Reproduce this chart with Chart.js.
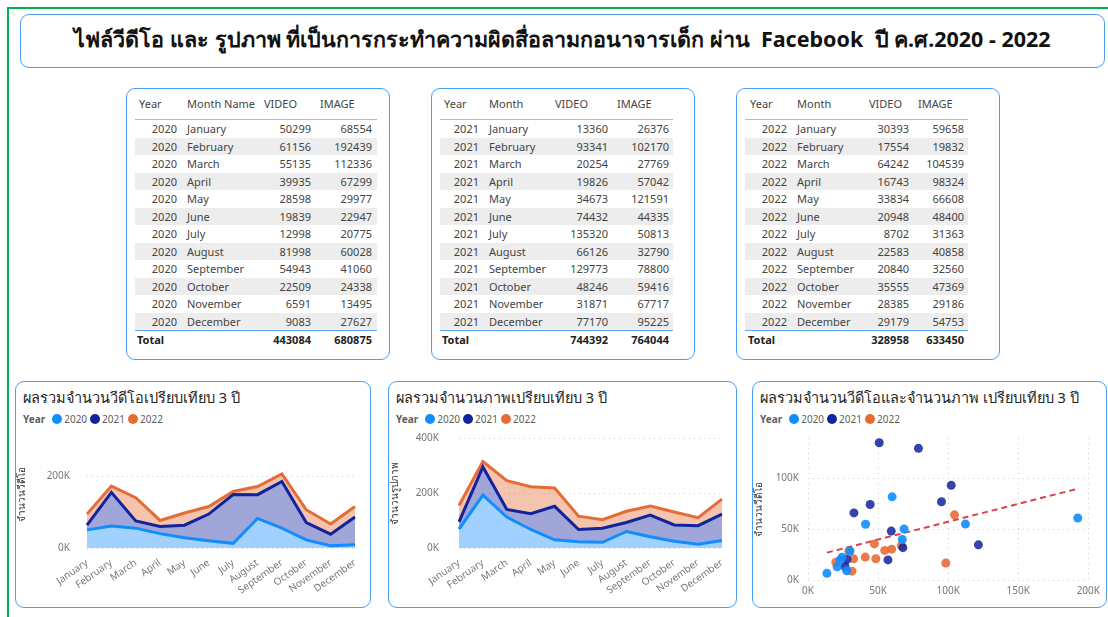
<!DOCTYPE html>
<html><head><meta charset="utf-8">
<script src="https://cdn.jsdelivr.net/npm/chart.js@4.4.0/dist/chart.umd.min.js"></script>
<style>
body{margin:0;width:1108px;height:617px;background:#fff;position:relative;overflow:hidden;font-family:'Noto Sans','Open Sans',sans-serif;}
.abs{position:absolute;}
.frame{left:7px;top:7px;width:1110px;height:620px;border:2px solid #00B050;box-sizing:border-box;}
.box{border:1px solid #4A9FF5;border-radius:9px;box-sizing:border-box;background:#fff;}
.title{font-weight:bold;font-size:21.5px;color:#111;text-align:center;line-height:48px;}
.cell{position:absolute;font-size:11px;color:#444;white-space:nowrap;line-height:14px;}
.r{text-align:right;}
.ptitle{font-size:14.5px;color:#252423;white-space:nowrap;}
.legend{font-size:10px;color:#605E5C;white-space:nowrap;display:flex;align-items:center;}
.legend b{margin-right:4px;color:#605E5C;}
.dot{display:inline-block;width:10px;height:10px;border-radius:50%;margin:0 2px 0 3px;}
</style></head>
<body>
<div class="abs frame"></div>
<div class="abs box title" style="left:20px;top:14px;width:1085px;height:54px;">ไฟล์วีดีโอ และ รูปภาพ ที่เป็นการกระทำความผิดสื่อลามกอนาจารเด็ก ผ่าน&nbsp; Facebook&nbsp; ปี ค.ศ.2020 - 2022</div>

<div class="abs box" style="left:126px;top:88px;width:264px;height:272px;"></div>
<div class="abs box" style="left:431px;top:88px;width:264px;height:272px;"></div>
<div class="abs box" style="left:736px;top:88px;width:264px;height:272px;"></div>
<div id="tables"></div>

<div class="abs box" style="left:15px;top:381px;width:356px;height:227px;"></div>
<div class="abs box" style="left:388px;top:381px;width:349px;height:227px;"></div>
<div class="abs box" style="left:752px;top:381px;width:355px;height:227px;"></div>

<div class="abs ptitle" style="left:23px;top:386px;">ผลรวมจำนวนวีดีโอเปรียบเทียบ 3 ปี</div>
<div class="abs ptitle" style="left:396px;top:386px;">ผลรวมจำนวนภาพเปรียบเทียบ 3 ปี</div>
<div class="abs ptitle" style="left:760px;top:386px;">ผลรวมจำนวนวีดีโอและจำนวนภาพ เปรียบเทียบ 3 ปี</div>

<div class="abs legend" style="left:23px;top:412px;" id="lg1"></div>
<div class="abs legend" style="left:396px;top:412px;" id="lg2"></div>
<div class="abs legend" style="left:760px;top:412px;" id="lg3"></div>

<canvas id="c1" class="abs" style="left:16px;top:417px;" width="352" height="189"></canvas>
<canvas id="c2" class="abs" style="left:389px;top:412px;" width="346" height="194"></canvas>
<canvas id="c3" class="abs" style="left:753px;top:423px;" width="352" height="183"></canvas>

<script>
const months = ['January','February','March','April','May','June','July','August','September','October','November','December'];
const years = ['2020','2021','2022'];
const video2020 = [50299,61156,55135,39935,28598,19839,12998,81998,54943,22509,6591,9083];
const image2020 = [68554,192439,112336,67299,29977,22947,20775,60028,41060,24338,13495,27627];
const video2021 = [13360,93341,20254,19826,34673,74432,135320,66126,129773,48246,31871,77170];
const image2021 = [26376,102170,27769,57042,121591,44335,50813,32790,78800,59416,67717,95225];
const video2022 = [30393,17554,64242,16743,33834,20948,8702,22583,20840,35555,28385,29179];
const image2022 = [59658,19832,104539,98324,66608,48400,31363,40858,32560,47369,29186,54753];
const totalsVideo = [443084,744392,328958];
const totalsImage = [680875,764044,633450];
const trendPoints = [{x:13495,y:27000},{x:192439,y:90000}];
const yTickLabels1 = [0,200000];
const yTickLabels2 = [0,200000,400000];
const scatterXTicks = [0,50000,100000,150000,200000];
const scatterYTicks = [0,50000,100000];

const COL = ['#118DFF','#12239E','#E66C37'];
const DOT = ['rgba(17,141,255,0.9)','rgba(18,35,158,0.85)','rgba(230,108,55,0.9)'];
const FILL = ['rgba(17,141,255,0.40)','rgba(18,35,158,0.40)','rgba(230,108,55,0.40)'];

// ----- tables -----
const tableLayouts = [
  {left:135,right:377,month:'Month Name',cols:{yearL:139,yearR:177,month:187,vidH:264,vidR:311,imgH:320,imgR:372}},
  {left:440,right:673,month:'Month',cols:{yearL:444,yearR:479,month:489,vidH:555,vidR:608,imgH:617,imgR:669}},
  {left:745,right:968,month:'Month',cols:{yearL:750,yearR:787,month:797,vidH:869,vidR:909,imgH:918,imgR:964}}
];
const vids=[video2020,video2021,video2022], imgs=[image2020,image2021,image2022];
let html='';
function cellL(x,y,t,extra){return `<div class="cell" style="left:${x}px;top:${y}px;${extra||''}">${t}</div>`;}
function cellR(x,y,t,extra){return `<div class="cell r" style="left:${x-80}px;width:80px;top:${y}px;${extra||''}">${t}</div>`;}
tableLayouts.forEach((L,ti)=>{
  const c=L.cols, w=L.right-L.left;
  html+=cellL(c.yearL,97,'Year');
  html+=cellL(c.month,97,L.month);
  html+=cellL(c.vidH,97,'VIDEO');
  html+=cellL(c.imgH,97,'IMAGE');
  html+=`<div class="abs" style="left:${L.left}px;top:119px;width:${w}px;height:1px;background:#8EC5F5"></div>`;
  months.forEach((m,i)=>{
    const top=120+i*17.5;
    if(i%2===1) html+=`<div class="abs" style="left:${L.left}px;top:${top}px;width:${w}px;height:17.5px;background:#EDEDED"></div>`;
    const ty=top+2;
    html+=cellR(c.yearR,ty,years[ti]);
    html+=cellL(c.month,ty,m);
    html+=cellR(c.vidR,ty,vids[ti][i]);
    html+=cellR(c.imgR,ty,imgs[ti][i]);
  });
  html+=`<div class="abs" style="left:${L.left}px;top:330px;width:${w}px;height:1px;background:#5AAAF0"></div>`;
  html+=cellL(c.yearL-2,333,'Total','font-weight:bold;color:#222');
  html+=cellR(c.vidR,333,totalsVideo[ti],'font-weight:bold;color:#222');
  html+=cellR(c.imgR,333,totalsImage[ti],'font-weight:bold;color:#222');
});
document.getElementById('tables').innerHTML=html;

// legends
['lg1','lg2','lg3'].forEach(id=>{
  let h='<b>Year</b>';
  years.forEach((y,i)=>{h+=`<span class="dot" style="background:${COL[i]}"></span><span>${y}</span>`;});
  document.getElementById(id).innerHTML=h;
});

Chart.defaults.font.family="'Noto Sans','Open Sans',sans-serif";
Chart.defaults.animation=false;
const kfmt = v => (v/1000)+'K';

function areaChart(id, d, max, tickVals, padY, yScaleW, padRight, padTop, ytitle){
  return new Chart(document.getElementById(id),{
    type:'line',
    data:{labels:months,datasets:years.map((y,i)=>({
      label:y,data:d[i],borderColor:COL[i],backgroundColor:FILL[i],
      fill:i===0?'origin':'-1',borderWidth:3,pointRadius:0,tension:0
    }))},
    options:{responsive:false,animation:false,
      layout:{padding:{top:padTop,right:padRight,left:0,bottom:0}},
      plugins:{legend:{display:false},tooltip:{enabled:false}},
      scales:{
        x:{grid:{display:false},border:{display:false},
           ticks:{autoSkip:false,minRotation:35,maxRotation:35,color:'#777',font:{size:10},padding:1},
           afterFit(s){s.height=58;}},
        y:{stacked:true,min:0,max:max,
           grid:{color:'#D0D0D0',lineWidth:1,drawTicks:false},
           border:{display:false,dash:[1,4]},
           ticks:{stepSize:200000,color:'#777',font:{size:10},padding:padY,callback:kfmt},
           afterBuildTicks(s){s.ticks=tickVals.map(v=>({value:v}));},
           title:{display:true,text:ytitle,color:'#333',font:{size:10},padding:{top:0,bottom:0}},
           afterFit(s){s.width=yScaleW;}}
      }
    }
  });
}
areaChart('c1',[video2020,video2021,video2022],300000,yTickLabels1,17,71,13,10,'จำนวนวีดีโอ');
areaChart('c2',[image2020,image2021,image2022],400000,yTickLabels2,20,70,13,8,'จำนวนรูปภาพ');

// scatter
const scatterSets = years.map((y,i)=>({
  type:'scatter',label:y,
  data:imgs[i].map((v,k)=>({x:v,y:vids[i][k]})),
  backgroundColor:DOT[i],borderColor:DOT[i],pointRadius:4.5,pointHoverRadius:4.5,borderWidth:0
}));
scatterSets.push({type:'line',label:'trend',data:trendPoints,borderColor:'#D9434F',borderWidth:2,borderDash:[6,4],pointRadius:0,fill:false});
new Chart(document.getElementById('c3'),{
  type:'scatter',
  data:{datasets:scatterSets},
  options:{responsive:false,animation:false,
    layout:{padding:{top:8,right:16,left:0,bottom:0}},
    plugins:{legend:{display:false},tooltip:{enabled:false}},
    scales:{
      x:{type:'linear',min:0,max:200000,
         grid:{color:'#D0D0D0',drawTicks:false},border:{display:false,dash:[1,4]},
         ticks:{stepSize:50000,color:'#777',font:{size:10},padding:5,callback:kfmt},
         afterBuildTicks(s){s.ticks=scatterXTicks.map(v=>({value:v}));},
         afterFit(s){s.height=26;}},
      y:{min:0,max:140000,
         grid:{color:'#D0D0D0',drawTicks:false},border:{display:false,dash:[1,4]},
         ticks:{stepSize:50000,color:'#777',font:{size:10},padding:9,callback:kfmt},
         afterBuildTicks(s){s.ticks=scatterYTicks.map(v=>({value:v}));},
         title:{display:true,text:'จำนวนวีดีโอ',color:'#333',font:{size:10},padding:{top:0,bottom:0}},
         afterFit(s){s.width=55;}}
    }
  }
});
</script>
</body></html>
